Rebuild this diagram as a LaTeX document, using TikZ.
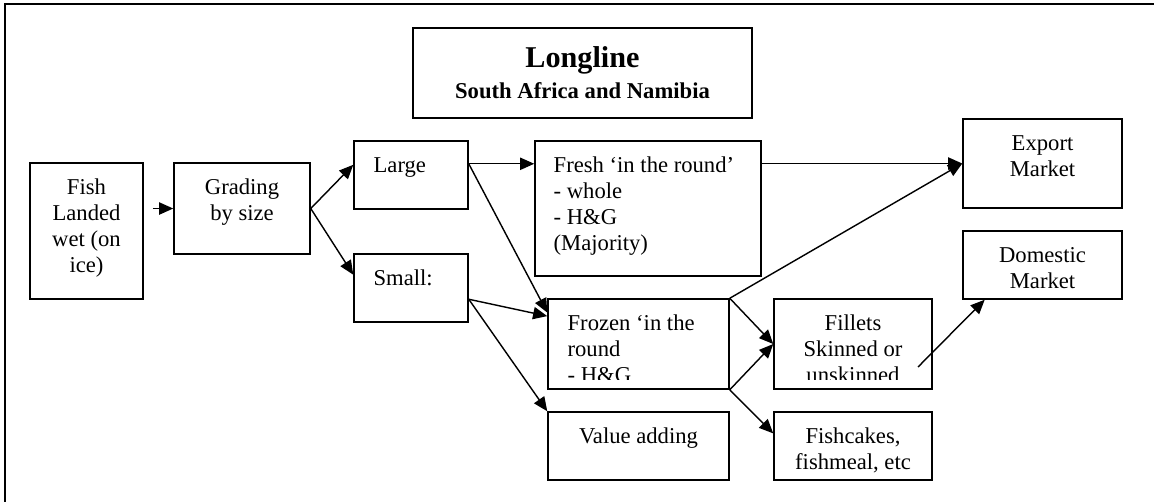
\documentclass[tikz,border=0pt]{standalone}
\usepackage{fontspec}
\setmainfont{Liberation Serif}
\usetikzlibrary{arrows.meta}

\begin{document}
\begin{tikzpicture}[x=0.53pt, y=-0.53pt,
  font=\fontsize{12}{13.8}\selectfont,
  box/.style 2 args={draw, line width=0.8pt, minimum width=#1*0.53pt, minimum height=#2*0.53pt, inner sep=0pt},
  txt/.style={anchor=north, inner sep=0pt, align=center},
  ltxt/.style={anchor=north west, inner sep=0pt, align=left},
  arr/.style={line width=0.75pt, -{Triangle[length=7.5pt, width=6.5pt]}}]

\useasboundingbox (0,0) rectangle (1154,502);
\draw[line width=1pt] (1154,4) -- (5,4) -- (5,502);

\node[box={339}{90}, align=center] (title) at (582.5,73) {{\bfseries\fontsize{16}{19}\selectfont Longline}\\[2.6pt]{\bfseries South Africa and Namibia}};

\node[box={113}{136}] (fish) at (86.5,231) {};
\node[txt] (fishtext) at ([yshift=-7pt]fish.north) {\strut Fish\\Landed\\wet (on\\ice)};

\node[box={136}{91}] (grading) at (242,208.5) {};
\node[txt] (gradingtext) at ([yshift=-7pt]grading.north) {\strut Grading\\by size};

\node[box={114}{68}] (large) at (411,175) {};
\node[ltxt] (largetext) at ([xshift=10.6pt, yshift=-7pt]large.north west) {\strut Large};

\node[box={114}{68}] (small) at (411,288) {};
\node[ltxt] (smalltext) at ([xshift=10.6pt, yshift=-7pt]small.north west) {\strut Small:};

\node[box={226}{135}] (fresh) at (648,208.5) {};
\node[ltxt] (freshtext) at ([xshift=10.1pt, yshift=-7pt]fresh.north west) {\strut Fresh `in the round'\\- whole\\- H\&G\\(Majority)};

\node[box={181}{90}] (frozen) at (638.5,344) {};
\begin{scope}
\clip (frozen.north west) rectangle ([yshift=5.3pt]frozen.south east);
\node[ltxt] (frozentext) at ([xshift=10.6pt, yshift=-7pt]frozen.north west) {\strut Frozen `in the\\round\\- H\&G};
\end{scope}

\node[box={181}{68}] (value) at (638.5,446) {};
\node[txt] (valuetext) at ([yshift=-7pt]value.north) {\strut Value adding};

\node[box={158}{90}] (fillets) at (853,344) {};
\begin{scope}
\clip (fillets.north west) rectangle ([yshift=5.3pt]fillets.south east);
\node[txt] (filletstext) at ([yshift=-7pt]fillets.north) {\strut Fillets\\Skinned or\\unskinned};
\end{scope}

\node[box={158}{68}] (fishcakes) at (853,446) {};
\node[txt] (fishcakestext) at ([yshift=-7pt]fishcakes.north) {\strut Fishcakes,\\fishmeal, etc};

\node[box={159}{89}] (export) at (1042.5,163.5) {};
\node[txt] (exporttext) at ([yshift=-7pt]export.north) {\strut Export\\Market};

\node[box={159}{68}] (domestic) at (1042.5,265) {};
\node[txt] (domestictext) at ([yshift=-7pt]domestic.north) {\strut Domestic\\Market};

\draw[arr, shorten <=4.8pt] (fish.east |- grading.west) -- (grading.west);
\draw[arr] (grading.east) -- (large.170);
\draw[arr] (grading.east) -- (small.167);
\draw[arr] (large.11) -- (large.11 -| fresh.west);
\draw[arr] (fresh.east |- export.west) -- (export.west);
\draw[arr] (large.11) -- (frozen.161);
\draw[arr] (small.349) -- (frozen.163);
\draw[arr] (small.349) -- (value.north west);
\draw[arr] (frozen.north east) -- (export.west);
\draw[arr] (frozen.north east) -- (fillets.west);
\draw[arr] (frozen.south east) -- (fillets.west);
\draw[arr] (frozen.south east) -- (fishcakes.171);
\coordinate (filletsout) at (918,367);
\draw[arr] (filletsout) -- (domestic.211);

\end{tikzpicture}
\end{document}
